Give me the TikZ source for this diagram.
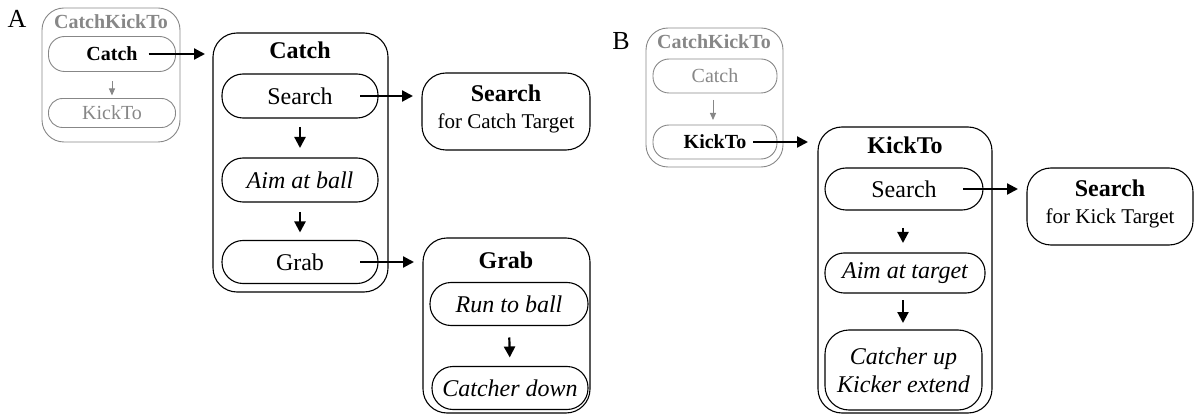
\documentclass[tikz,border=0pt]{standalone}
\usepackage{fontspec}
\setmainfont{Liberation Serif}
\usetikzlibrary{arrows.meta}
\definecolor{dim}{RGB}{135,135,135}
\tikzset{
  every node/.style={inner sep=0pt, outer sep=0pt},
  panel/.style={draw, line width=1.1pt, rounded corners=24pt},
  dimpanel/.style={draw=dim, line width=0.9pt, rounded corners=22pt},
  oval/.style={draw, line width=1.1pt, rounded corners=21pt, font=\fontsize{24}{26}\selectfont},
  dimoval/.style={draw=dim, line width=0.9pt, rounded corners=16pt, font=\fontsize{20}{22}\selectfont},
  big/.style={font=\fontsize{24}{26}\selectfont},
  small/.style={font=\fontsize{20}{22}\selectfont},
  sub/.style={font=\fontsize{21}{23}\selectfont},
  flow/.style={-{Triangle[length=11pt,width=11pt]}, line width=2.2pt},
  dimflow/.style={-{Triangle[length=7pt,width=6pt]}, line width=1pt, draw=dim},
}
\begin{document}
\begin{tikzpicture}[x=1pt,y=-1pt]
\useasboundingbox (0,0) rectangle (1194,414);

% ---------- Part A ----------
\node[font=\fontsize{26}{28}\selectfont] (labA) at (17,19) {A};

\node[dimpanel, minimum width=138pt, minimum height=134pt] (ckA) at (111,75) {};
\node[small, text=dim, font=\fontsize{20}{22}\selectfont\bfseries] (ckAt) at (111,22) {CatchKickTo};
\node[dimoval, draw=dim, minimum width=127pt, minimum height=35pt, font=\fontsize{20}{22}\selectfont\bfseries] (catchA) at (112,54) {Catch};
\node[dimoval, text=dim, minimum width=127pt, minimum height=29pt, rounded corners=14pt] (kickA) at (112,113) {KickTo};
\draw[dimflow, shorten <=10pt, shorten >=3pt] (catchA.south) -- (kickA.north);

\node[panel, minimum width=175pt, minimum height=259pt] (catchBox) at (300.5,162.5) {};
\node[big, font=\fontsize{24}{26}\selectfont\bfseries] (catchT) at (300,50) {Catch};
\node[oval, minimum width=156pt, minimum height=44pt] (searchA) at (300,96) {Search};
\node[oval, minimum width=156pt, minimum height=44pt, font=\fontsize{24}{26}\selectfont\itshape] (aimA) at (300,180) {Aim at ball};
\node[oval, minimum width=156pt, minimum height=43pt] (grabA) at (300,262) {Grab};
\draw[flow, shorten <=9pt, shorten >=10pt] (searchA.south) -- (aimA.north);
\draw[flow, shorten <=10pt, shorten >=8pt] (aimA.south) -- (grabA.north);

\draw[flow, shorten >=8pt] ([xshift=-27pt]catchA.east) -- (catchBox.west |- catchA.east);

\node[panel, minimum width=168pt, minimum height=77pt] (srchBoxA) at (506,111.5) {};
\node[big, font=\fontsize{24}{26}\selectfont\bfseries] (srchAt) at (506,93) {Search};
\node[sub] (srchAs) at (506,123) {for Catch Target};
\draw[flow, shorten >=9pt] ([xshift=-18pt]searchA.east) -- (srchBoxA.west |- searchA.east);

\node[panel, minimum width=167pt, minimum height=175pt] (grabBox) at (506.5,325.5) {};
\node[big, font=\fontsize{24}{26}\selectfont\bfseries] (grabT) at (506,260) {Grab};
\node[oval, minimum width=158pt, minimum height=43pt, font=\fontsize{24}{26}\selectfont\itshape] (runA) at (509,304) {Run to ball};
\node[oval, minimum width=156pt, minimum height=43pt, font=\fontsize{24}{26}\selectfont\itshape] (downA) at (510,388) {Catcher down};
\draw[flow, shorten <=12pt, shorten >=9pt] (runA.south) -- (downA.north);
\draw[flow, shorten >=9pt] ([xshift=-18pt]grabA.east) -- (grabBox.west |- grabA.east);

% ---------- Part B ----------
\node[font=\fontsize{26}{28}\selectfont] (labB) at (621,41) {B};

\node[dimpanel, minimum width=137pt, minimum height=139pt] (ckB) at (714.5,97.5) {};
\node[small, text=dim, font=\fontsize{20}{22}\selectfont\bfseries] (ckBt) at (714,42) {CatchKickTo};
\node[dimoval, text=dim, minimum width=124pt, minimum height=34pt] (catchB) at (715,76) {Catch};
\node[dimoval, text=black, minimum width=124pt, minimum height=34pt, font=\fontsize{20}{22}\selectfont\bfseries] (kickB) at (715,142) {KickTo};
\draw[dimflow, shorten <=7pt, shorten >=5pt] ([xshift=-2pt]catchB.south) -- ([xshift=-2pt]kickB.north);

\node[panel, minimum width=174pt, minimum height=286pt] (kickBox) at (905,270) {};
\node[big, font=\fontsize{24}{26}\selectfont\bfseries] (kickT) at (905,145) {KickTo};
\node[oval, minimum width=158pt, minimum height=42pt] (searchB) at (904,189) {Search};
\node[oval, minimum width=160pt, minimum height=40pt, rounded corners=19pt, font=\fontsize{24}{26}\selectfont\itshape] (aimB) at (905,273) {Aim at target};
\node[oval, minimum width=157pt, minimum height=80pt, rounded corners=24pt, align=center, font=\fontsize{24}{28}\selectfont\itshape] (cupB) at (903.5,370) {Catcher up\\Kicker extend};
\draw[flow, shorten <=18pt, shorten >=10pt] ([xshift=-1pt]searchB.south) -- ([xshift=-2pt]aimB.north);
\draw[flow, shorten <=7pt, shorten >=7pt] ([xshift=-2pt]aimB.south) -- ([xshift=-0.5pt]cupB.north);

\draw[flow, shorten >=10pt] ([xshift=-24pt]kickB.east) -- (kickBox.west |- kickB.east);

\node[panel, minimum width=166pt, minimum height=77pt] (srchBoxB) at (1110,206.5) {};
\node[big, font=\fontsize{24}{26}\selectfont\bfseries] (srchBt) at (1110,188) {Search};
\node[sub] (srchBs) at (1110,218) {for Kick Target};
\draw[flow, shorten >=9pt] ([xshift=-20pt]searchB.east) -- (srchBoxB.west |- searchB.east);
\end{tikzpicture}
\end{document}
